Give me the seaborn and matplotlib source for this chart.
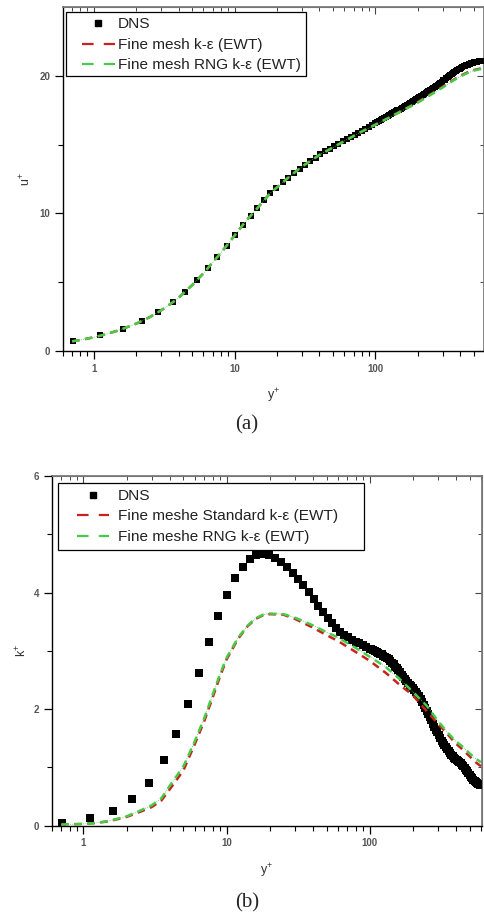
import numpy as np
import pandas as pd
import matplotlib
matplotlib.use("Agg")
import matplotlib.pyplot as plt
from matplotlib.ticker import FixedLocator, NullFormatter, FuncFormatter, LogLocator
from matplotlib.lines import Line2D
from matplotlib.patches import Rectangle
import seaborn as sns

# ---------------- data ----------------
yplus_dns = [0.71, 1.11, 1.61, 2.19, 2.86, 3.63, 4.43, 5.42, 6.41, 7.53,
             8.75, 10.07, 11.4, 12.95, 14.5, 16.1, 17.85, 19.8, 21.9, 24.1,
             26.5, 29.0, 31.7, 34.5, 37.5, 40.6, 43.9, 47.3, 50.9, 54.6,
             58.5, 62.5, 66.7, 71.0, 75.5, 80.1, 84.9, 89.8, 94.9,
             100, 103, 106, 109, 112, 115, 118, 122, 125, 129,
             132, 136, 139, 143, 147, 151, 155, 159, 163, 168,
             172, 177, 181, 186, 190, 195, 200, 205, 210, 216,
             221, 227, 232, 238, 244, 250, 256, 263, 269, 276,
             282, 289, 296, 303, 310, 318, 325, 333, 340, 348,
             356, 364, 372, 381, 389, 398, 406, 415, 424, 433,
             442, 452, 461, 471, 480, 490, 500, 510, 520, 530,
             541, 551, 562, 573, 584, 592, 600]
uplus_dns = [0.75, 1.15, 1.62, 2.17, 2.84, 3.54, 4.31, 5.17, 6.02, 6.83,
             7.63, 8.45, 9.19, 9.82, 10.42, 10.95, 11.46, 11.86, 12.25, 12.6,
             12.95, 13.25, 13.55, 13.8, 14.05, 14.3, 14.5, 14.7, 14.9, 15.07,
             15.24, 15.4, 15.56, 15.72, 15.87, 16.02, 16.16, 16.3, 16.44,
             16.58, 16.65, 16.73, 16.80, 16.87, 16.93, 17.00, 17.08, 17.14, 17.22,
             17.28, 17.35, 17.41, 17.48, 17.55, 17.62, 17.69, 17.75, 17.82, 17.89,
             17.96, 18.03, 18.10, 18.16, 18.23, 18.30, 18.36, 18.43, 18.50, 18.58,
             18.65, 18.73, 18.80, 18.88, 18.95, 19.03, 19.10, 19.18, 19.26, 19.34,
             19.42, 19.50, 19.58, 19.66, 19.73, 19.81, 19.88, 19.96, 20.03, 20.11,
             20.18, 20.26, 20.33, 20.40, 20.46, 20.52, 20.58, 20.63, 20.68, 20.73,
             20.77, 20.81, 20.85, 20.89, 20.92, 20.95, 20.97, 20.99, 21.01, 21.03,
             21.04, 21.05, 21.06, 21.07, 21.08, 21.09, 21.09]
kplus_dns = [0.05, 0.13, 0.25, 0.46, 0.74, 1.12, 1.58, 2.09, 2.62, 3.15,
             3.59, 3.96, 4.25, 4.44, 4.57, 4.64, 4.67, 4.65, 4.59, 4.52,
             4.44, 4.34, 4.24, 4.13, 4.01, 3.89, 3.77, 3.66, 3.56, 3.47,
             3.39, 3.33, 3.28, 3.23, 3.19, 3.16, 3.13, 3.1, 3.07,
             3.04, 3.03, 3.01, 3.00, 2.98, 2.97, 2.95, 2.94, 2.92, 2.90,
             2.88, 2.86, 2.83, 2.80, 2.77, 2.73, 2.70, 2.67, 2.63, 2.59,
             2.55, 2.51, 2.48, 2.45, 2.42, 2.39, 2.36, 2.33, 2.30, 2.26,
             2.22, 2.17, 2.13, 2.07, 2.02, 1.97, 1.92, 1.86, 1.81, 1.75,
             1.70, 1.65, 1.60, 1.55, 1.50, 1.46, 1.42, 1.38, 1.35, 1.32,
             1.29, 1.25, 1.22, 1.19, 1.17, 1.15, 1.13, 1.11, 1.09, 1.07,
             1.05, 1.02, 0.99, 0.96, 0.93, 0.90, 0.87, 0.84, 0.82, 0.79,
             0.77, 0.75, 0.73, 0.72, 0.71, 0.70, 0.70]

yplus_model = [0.7, 0.85, 1, 1.2, 1.5, 2, 2.5, 3, 3.5, 4,
               5, 6, 7, 8, 9, 10, 12, 14, 16, 18,
               20, 25, 30, 40, 50, 60, 80, 100, 130, 160,
               200, 250, 300, 350, 400, 450, 500, 550, 600]
uplus_std = [0.7, 0.85, 1.0, 1.2, 1.5, 1.99, 2.47, 2.95, 3.42, 3.88,
             4.8, 5.65, 6.45, 7.15, 7.8, 8.4, 9.45, 10.2, 10.9, 11.5,
             11.9, 12.75, 13.4, 14.25, 14.8, 15.25, 15.95, 16.45, 17.05, 17.55,
             18.1, 18.7, 19.2, 19.65, 20.0, 20.25, 20.42, 20.52, 20.58]
uplus_rng = [0.7, 0.85, 1.0, 1.2, 1.5, 1.99, 2.47, 2.95, 3.42, 3.88,
             4.8, 5.65, 6.45, 7.15, 7.8, 8.4, 9.45, 10.2, 10.9, 11.5,
             11.9, 12.75, 13.4, 14.25, 14.8, 15.25, 15.95, 16.45, 17.05, 17.55,
             18.05, 18.65, 19.15, 19.6, 19.95, 20.2, 20.38, 20.48, 20.52]
kplus_std = [0.02, 0.025, 0.03, 0.045, 0.075, 0.15, 0.24, 0.32, 0.43, 0.62,
             0.95, 1.4, 1.8, 2.2, 2.56, 2.85, 3.2, 3.42, 3.55, 3.61,
             3.63, 3.62, 3.55, 3.4, 3.27, 3.17, 2.98, 2.83, 2.62, 2.43,
             2.24, 1.97, 1.75, 1.57, 1.41, 1.3, 1.19, 1.09, 1.02]
kplus_rng = [0.02, 0.025, 0.03, 0.045, 0.08, 0.16, 0.26, 0.35, 0.47, 0.68,
             1.02, 1.45, 1.85, 2.25, 2.6, 2.88, 3.22, 3.43, 3.56, 3.62,
             3.64, 3.63, 3.57, 3.44, 3.32, 3.23, 3.05, 2.9, 2.72, 2.53,
             2.3, 2.06, 1.8, 1.6, 1.45, 1.35, 1.24, 1.15, 1.09]

legend_a = ["DNS", "Fine mesh k-\u03b5 (EWT)", "Fine mesh RNG k-\u03b5 (EWT)"]
legend_b = ["DNS", "Fine meshe Standard k-\u03b5 (EWT)", "Fine meshe RNG k-\u03b5 (EWT)"]
xticks = [1, 10, 100]
yticks_a = [0, 10, 20]
yticks_b = [0, 2, 4, 6]

assert len(yplus_dns) == len(uplus_dns) == len(kplus_dns)

# ---------------- style ----------------
sns.set_theme(style="ticks")
plt.rcParams["font.family"] = ["Liberation Sans", "DejaVu Sans"]
plt.rcParams["mathtext.fontset"] = "custom"
plt.rcParams["mathtext.rm"] = "Liberation Sans"

RED = "#c8221f"
GREEN = "#46cc46"
TICKC = "#555555"
W, H = 485.0, 915.0

dns_df = pd.DataFrame({"y": yplus_dns, "u": uplus_dns, "k": kplus_dns})
mod_df = pd.DataFrame({"y": yplus_model, "u_std": uplus_std, "u_rng": uplus_rng,
                       "k_std": kplus_std, "k_rng": kplus_rng})

fig = plt.figure(figsize=(4.85, 9.15), dpi=100)
ax1 = fig.add_axes([62.7 / W, 1 - 351 / H, (484 - 62.7) / W, (351 - 7) / H])
ax2 = fig.add_axes([51.7 / W, 1 - 825.7 / H, (482 - 51.7) / W, (825.7 - 476) / H])


def draw(ax, ycol, std_col, rng_col, yticks, ylim, xlim, ylabel, ms, ylpad):
    sns.scatterplot(data=dns_df, x="y", y=ycol, ax=ax, marker="s", s=ms,
                    color="black", edgecolor="black", linewidth=0, legend=False,
                    zorder=2)
    sns.lineplot(data=mod_df, x="y", y=std_col, ax=ax, color=RED, lw=1.8,
                 zorder=3, sort=False, legend=False)
    ax.lines[-1].set_dashes([3.0, 2.2])
    sns.lineplot(data=mod_df, x="y", y=rng_col, ax=ax, color=GREEN, lw=0.6,
                 zorder=3, sort=False, ls=":", legend=False)
    sns.lineplot(data=mod_df, x="y", y=rng_col, ax=ax, color=GREEN, lw=1.8,
                 zorder=4, sort=False, legend=False)
    ax.lines[-1].set_dashes([3.0, 2.2])
    ax.set_xscale("log")
    ax.set_xlim(*xlim)
    ax.set_ylim(*ylim)
    ax.xaxis.set_major_locator(FixedLocator(xticks))
    ax.xaxis.set_major_formatter(FuncFormatter(lambda v, p: "%g" % v))
    ax.xaxis.set_minor_locator(LogLocator(base=10, subs=np.arange(2, 10)))
    ax.xaxis.set_minor_formatter(NullFormatter())
    ax.yaxis.set_major_locator(FixedLocator(yticks))
    step = yticks[1] - yticks[0]
    ax.yaxis.set_minor_locator(FixedLocator([t + step / 2 for t in yticks[:-1]]))
    ax.tick_params(axis="both", which="major", direction="out", length=6, width=0.9,
                   color="black", labelsize=7, labelcolor=TICKC, pad=3)
    ax.tick_params(axis="both", which="minor", direction="out", length=3.5, width=0.8,
                   color="black")
    for t in ax.get_xticklabels() + ax.get_yticklabels():
        t.set_fontweight("bold")
    for s in ["left", "bottom"]:
        ax.spines[s].set_color("black")
        ax.spines[s].set_linewidth(1.0)
    for s in ["top", "right"]:
        ax.spines[s].set_visible(True)
        ax.spines[s].set_color("#777777")
        ax.spines[s].set_linewidth(0.8)
    sec_x = ax.secondary_xaxis("top")
    sec_x.xaxis.set_major_locator(FixedLocator(xticks))
    sec_x.xaxis.set_minor_locator(LogLocator(base=10, subs=np.arange(2, 10)))
    sec_x.xaxis.set_major_formatter(NullFormatter())
    sec_x.xaxis.set_minor_formatter(NullFormatter())
    sec_x.tick_params(which="major", direction="in", length=5, width=0.8, color="#444444")
    sec_x.tick_params(which="minor", direction="in", length=3, width=0.7, color="#444444")
    sec_x.spines["top"].set_color("#777777")
    sec_y = ax.secondary_yaxis("right")
    sec_y.yaxis.set_major_locator(FixedLocator(yticks))
    sec_y.yaxis.set_minor_locator(FixedLocator([t + step / 2 for t in yticks[:-1]]))
    sec_y.yaxis.set_major_formatter(NullFormatter())
    sec_y.tick_params(which="major", direction="in", length=5, width=0.8, color="#444444")
    sec_y.tick_params(which="minor", direction="in", length=3, width=0.7, color="#444444")
    sec_y.spines["right"].set_color("#777777")
    ax.set_xlabel("$\\mathregular{y^{+}}$", fontsize=9, color="#333333", labelpad=10)
    ax.set_ylabel("$\\mathregular{%s^{+}}$" % ylabel, fontsize=9, color="#333333",
                  labelpad=ylpad)


draw(ax1, "u", "u_std", "u_rng", yticks_a, (0, 25), (0.6, 590), "u", 25, 4)
draw(ax2, "k", "k_std", "k_rng", yticks_b, (0, 6), (0.6, 610), "k", 26, 3)


def make_handles():
    return [
        Line2D([], [], ls="none", marker="s", ms=4.6, color="black"),
        Line2D([], [], color=RED, lw=1.6, dashes=[5.2, 4.6]),
        Line2D([], [], color=GREEN, lw=1.6, dashes=[5.2, 4.6]),
    ]


FS = 11.1
leg1 = ax1.legend(make_handles(), legend_a, loc="upper left",
                  bbox_to_anchor=(82 / W, 1 - 17.5 / H), bbox_transform=fig.transFigure,
                  borderaxespad=0, borderpad=0, fontsize=FS, frameon=False,
                  handlelength=2.12, handletextpad=0.2, labelspacing=0.42)
leg2 = ax2.legend(make_handles(), legend_b, loc="upper left",
                  bbox_to_anchor=(77 / W, 1 - 489 / H), bbox_transform=fig.transFigure,
                  borderaxespad=0, borderpad=0, fontsize=FS, frameon=False,
                  handlelength=2.06, handletextpad=0.6, labelspacing=0.42)
for leg in (leg1, leg2):
    leg.set_zorder(6)
    for t in leg.get_texts():
        t.set_color("#222222")

# legend boxes (frames)
ax1.add_patch(Rectangle((65.7 / W, 1 - 76 / H), (306 - 65.7) / W, 64 / H,
                        transform=fig.transFigure, facecolor="white",
                        edgecolor="black", lw=0.9, zorder=5, clip_on=False))
ax2.add_patch(Rectangle((58 / W, 1 - 550 / H), (364 - 58) / W, 67 / H,
                        transform=fig.transFigure, facecolor="white",
                        edgecolor="black", lw=0.9, zorder=5, clip_on=False))

fig.text(247 / W, 1 - 425 / H, "(a)", ha="center", va="center",
         fontsize=15, family=["Liberation Serif", "DejaVu Serif"])
fig.text(247 / W, 1 - 903 / H, "(b)", ha="center", va="center",
         fontsize=15, family=["Liberation Serif", "DejaVu Serif"])

fig.savefig("out.png", dpi=100)
